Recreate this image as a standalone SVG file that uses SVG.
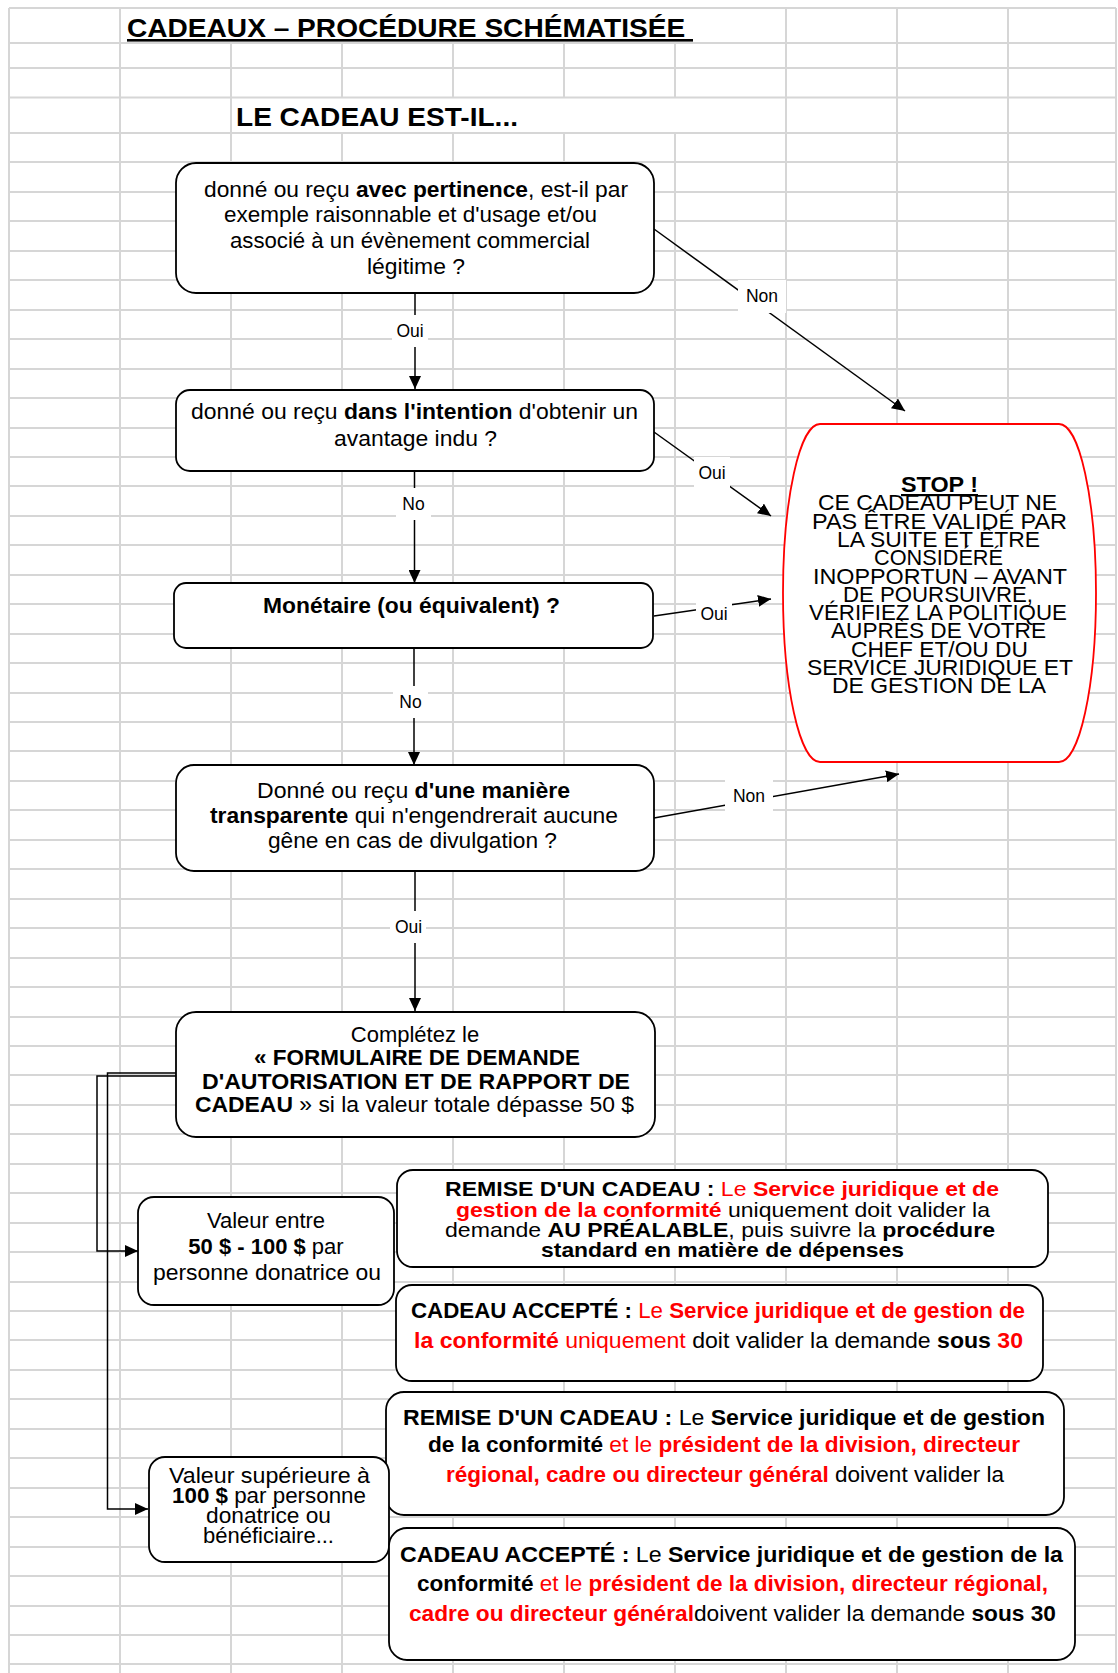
<svg xmlns="http://www.w3.org/2000/svg" width="1118" height="1673" viewBox="0 0 1118 1673">
<defs>
<style>
.grid{fill:none;stroke:#d6d6d6;stroke-width:2}
.box{fill:#fff;stroke:#000;stroke-width:1.8}
.stop{fill:#fff;stroke:#ff0000;stroke-width:1.8}
.ln{fill:none;stroke:#000;stroke-width:1.5}
.t{font-family:"Liberation Sans",Arial,Helvetica,sans-serif;font-size:22px;fill:#000}
.s{font-size:21px}
.c{text-anchor:middle}
.b{font-weight:bold}
.r{fill:#ff0000}
.lb{fill:#fff}
.lt{font-family:"Liberation Sans",Arial,Helvetica,sans-serif;font-size:17.5px;fill:#000;text-anchor:middle}
</style>
<marker id="ah" markerUnits="userSpaceOnUse" markerWidth="14" markerHeight="12" refX="13" refY="6" orient="auto"><path d="M0,0 L13,6 L0,12 Z" fill="#000"/></marker>
</defs>
<rect width="1118" height="1673" fill="#fff"/>
<g id="grid">
<path class="grid" d="M9 8H1116M9 43H1116M9 68H1116M9 97.5H1116M9 133H1116M9 162H1116M9 192H1116M9 221H1116M9 251H1116M9 280H1116M9 310H1116M9 339H1116M9 369H1116M9 398H1116M9 428H1116M9 457H1116M9 486H1116M9 516H1116M9 545H1116M9 575H1116M9 604H1116M9 634H1116M9 663H1116M9 693H1116M9 722H1116M9 751H1116M9 781H1116M9 810H1116M9 840H1116M9 869H1116M9 899H1116M9 928H1116M9 958H1116M9 987H1116M9 1017H1116M9 1046H1116M9 1075H1116M9 1105H1116M9 1134H1116M9 1164H1116M9 1193H1116M9 1223H1116M9 1252H1116M9 1282H1116M9 1311H1116M9 1340H1116M9 1370H1116M9 1399H1116M9 1429H1116M9 1458H1116M9 1488H1116M9 1517H1116M9 1547H1116M9 1576H1116M9 1606H1116M9 1635H1116M9 1664H1116"/>
<path class="grid" d="M9 8V1673M120 8V1673M231 43V1673M342 43V97.5M342 133V1673M453 43V97.5M453 133V1673M564 43V97.5M564 133V1673M675 43V97.5M675 133V1673M786 8V1673M897 8V1673M1008 8V1673M1116 8V1673"/>
</g>
<g id="title">
<text class="t b" x="127" y="37" style="font-size:26px;text-decoration:underline" textLength="566" lengthAdjust="spacingAndGlyphs">CADEAUX – PROCÉDURE SCHÉMATISÉE&#160;</text>
<text class="t b" x="236" y="126" style="font-size:26px" textLength="282" lengthAdjust="spacingAndGlyphs">LE CADEAU EST-IL...</text>
</g>
<g id="connectors">
<path class="ln" d="M415 293V389" marker-end="url(#ah)"/>
<path class="ln" d="M414.5 471V583" marker-end="url(#ah)"/>
<path class="ln" d="M414 648V765" marker-end="url(#ah)"/>
<path class="ln" d="M415 871V1011" marker-end="url(#ah)"/>
<path class="ln" d="M654 229L905 411" marker-end="url(#ah)"/>
<path class="ln" d="M654 432L771 516" marker-end="url(#ah)"/>
<path class="ln" d="M654 616L771 599" marker-end="url(#ah)"/>
<path class="ln" d="M654 818L899 774" marker-end="url(#ah)"/>
<path class="ln" d="M176 1076H97V1251H138" marker-end="url(#ah)"/>
<path class="ln" d="M176 1073H107.5V1509H148" marker-end="url(#ah)"/>
</g>
<g id="n1">
<rect class="box" x="176" y="163" width="478" height="130" rx="20"/>
<text class="t" x="204" y="197" textLength="424" lengthAdjust="spacingAndGlyphs">donné ou reçu <tspan class="b">avec pertinence</tspan>, est-il par</text>
<text class="t" x="224" y="222" textLength="373" lengthAdjust="spacingAndGlyphs">exemple raisonnable et d'usage et/ou</text>
<text class="t" x="230" y="248" textLength="360" lengthAdjust="spacingAndGlyphs">associé à un évènement commercial</text>
<text class="t" x="367" y="274" textLength="98" lengthAdjust="spacingAndGlyphs">légitime ?</text>
</g>
<g id="n2">
<rect class="box" x="176" y="390" width="478" height="81" rx="14"/>
<text class="t" x="191" y="419" textLength="447" lengthAdjust="spacingAndGlyphs">donné ou reçu <tspan class="b">dans l'intention</tspan> d'obtenir un</text>
<text class="t" x="334" y="446" textLength="163" lengthAdjust="spacingAndGlyphs">avantage indu ?</text>
</g>
<g id="n3">
<rect class="box" x="174" y="583" width="479" height="65" rx="12"/>
<text class="t b" x="263" y="613" textLength="297" lengthAdjust="spacingAndGlyphs">Monétaire (ou équivalent) ?</text>
</g>
<g id="n4">
<rect class="box" x="176" y="765" width="478" height="106" rx="18"/>
<text class="t" x="257" y="798" textLength="313" lengthAdjust="spacingAndGlyphs">Donné ou reçu <tspan class="b">d'une manière</tspan></text>
<text class="t" x="210" y="823" textLength="408" lengthAdjust="spacingAndGlyphs"><tspan class="b">transparente</tspan> qui n'engendrerait aucune</text>
<text class="t" x="268" y="848" textLength="289" lengthAdjust="spacingAndGlyphs">gêne en cas de divulgation ?</text>
</g>
<g id="n5">
<rect class="box" x="176" y="1012" width="479" height="125" rx="20"/>
<text class="t c" x="415" y="1042">Complétez le</text>
<text class="t b" x="254" y="1065" textLength="326" lengthAdjust="spacingAndGlyphs">« FORMULAIRE DE DEMANDE</text>
<text class="t b" x="202" y="1089" textLength="428" lengthAdjust="spacingAndGlyphs">D'AUTORISATION ET DE RAPPORT DE</text>
<text class="t" x="195" y="1112" textLength="439" lengthAdjust="spacingAndGlyphs"><tspan class="b">CADEAU</tspan> » si la valeur totale dépasse 50 $</text>
</g>
<g id="n6">
<rect class="box" x="138" y="1197" width="256" height="108" rx="16"/>
<text class="t c" x="266" y="1228">Valeur entre</text>
<text class="t c" x="266" y="1254"><tspan class="b">50 $ - 100 $</tspan> par</text>
<text class="t" x="153" y="1280" textLength="228" lengthAdjust="spacingAndGlyphs">personne donatrice ou</text>
</g>
<g id="n7">
<rect class="box" x="397" y="1170" width="651" height="97" rx="16"/>
<text class="t s" x="445" y="1196" textLength="554" lengthAdjust="spacingAndGlyphs"><tspan class="b">REMISE D'UN CADEAU :</tspan> <tspan class="r">Le </tspan><tspan class="r b">Service juridique et de</tspan></text>
<text class="t s" x="456" y="1217" textLength="534" lengthAdjust="spacingAndGlyphs"><tspan class="r b">gestion de la conformité</tspan> uniquement doit valider la</text>
<text class="t s" x="445" y="1237" textLength="550" lengthAdjust="spacingAndGlyphs">demande <tspan class="b">AU PRÉALABLE</tspan>, puis suivre la <tspan class="b">procédure</tspan></text>
<text class="t s b" x="541" y="1257" textLength="363" lengthAdjust="spacingAndGlyphs">standard en matière de dépenses</text>
</g>
<g id="n8">
<rect class="box" x="396" y="1285" width="647" height="96" rx="16"/>
<text class="t" x="411" y="1318" textLength="614" lengthAdjust="spacingAndGlyphs"><tspan class="b">CADEAU ACCEPTÉ :</tspan> <tspan class="r">Le </tspan><tspan class="r b">Service juridique et de gestion de</tspan></text>
<text class="t" x="414" y="1348" textLength="609" lengthAdjust="spacingAndGlyphs"><tspan class="r b">la conformité</tspan><tspan class="r"> uniquement</tspan> doit valider la demande <tspan class="b">sous</tspan> <tspan class="r b">30</tspan></text>
</g>
<g id="n9">
<rect class="box" x="386" y="1392" width="678" height="123" rx="18"/>
<text class="t" x="403" y="1425" textLength="642" lengthAdjust="spacingAndGlyphs"><tspan class="b">REMISE D'UN CADEAU :</tspan> Le <tspan class="b">Service juridique et de gestion</tspan></text>
<text class="t" x="428" y="1452" textLength="592" lengthAdjust="spacingAndGlyphs"><tspan class="b">de la conformité</tspan> <tspan class="r">et le </tspan><tspan class="r b">président de la division, directeur</tspan></text>
<text class="t" x="446" y="1482" textLength="558" lengthAdjust="spacingAndGlyphs"><tspan class="r b">régional, cadre ou directeur général</tspan> doivent valider la</text>
</g>
<g id="n10">
<rect class="box" x="149" y="1457" width="240" height="105" rx="16"/>
<text class="t" x="169" y="1483" textLength="201" lengthAdjust="spacingAndGlyphs">Valeur supérieure à</text>
<text class="t" x="172" y="1503" textLength="194" lengthAdjust="spacingAndGlyphs"><tspan class="b">100 $</tspan> par personne</text>
<text class="t" x="206" y="1523" textLength="125" lengthAdjust="spacingAndGlyphs">donatrice ou</text>
<text class="t" x="203" y="1543" textLength="131" lengthAdjust="spacingAndGlyphs">bénéficiaire...</text>
</g>
<g id="n11">
<rect class="box" x="389" y="1528" width="686" height="132" rx="18"/>
<text class="t" x="400" y="1562" textLength="663" lengthAdjust="spacingAndGlyphs"><tspan class="b">CADEAU ACCEPTÉ :</tspan> Le <tspan class="b">Service juridique et de gestion de la</tspan></text>
<text class="t" x="417" y="1591" textLength="631" lengthAdjust="spacingAndGlyphs"><tspan class="b">conformité</tspan> <tspan class="r">et le </tspan><tspan class="r b">président de la division, directeur régional,</tspan></text>
<text class="t" x="409" y="1621" textLength="647" lengthAdjust="spacingAndGlyphs"><tspan class="r b">cadre ou directeur général</tspan>doivent valider la demande <tspan class="b">sous 30</tspan></text>
</g>
<g id="stop">
<path class="stop" d="M820 424H1059A37 169 0 0 1 1096 593A37 169 0 0 1 1059 762H820A37 169 0 0 1 783 593A37 169 0 0 1 820 424Z"/>
<text class="t b" x="901" y="492" style="text-decoration:underline" textLength="77" lengthAdjust="spacingAndGlyphs">STOP !</text>
<text class="t" x="818" y="510.3" textLength="239" lengthAdjust="spacingAndGlyphs">CE CADEAU PEUT NE</text>
<text class="t" x="812" y="528.6" textLength="255" lengthAdjust="spacingAndGlyphs">PAS ÊTRE VALIDÉ PAR</text>
<text class="t" x="837" y="546.9" textLength="203" lengthAdjust="spacingAndGlyphs">LA SUITE ET ÊTRE</text>
<text class="t" x="874" y="565.2" textLength="129" lengthAdjust="spacingAndGlyphs">CONSIDÉRÉ</text>
<text class="t" x="813" y="583.5" textLength="254" lengthAdjust="spacingAndGlyphs">INOPPORTUN – AVANT</text>
<text class="t" x="843" y="601.8" textLength="190" lengthAdjust="spacingAndGlyphs">DE POURSUIVRE,</text>
<text class="t" x="809" y="620.1" textLength="258" lengthAdjust="spacingAndGlyphs">VÉRIFIEZ LA POLITIQUE</text>
<text class="t" x="831" y="638.4" textLength="215" lengthAdjust="spacingAndGlyphs">AUPRÈS DE VOTRE</text>
<text class="t" x="851" y="656.7" textLength="177" lengthAdjust="spacingAndGlyphs">CHEF ET/OU DU</text>
<text class="t" x="807" y="675" textLength="266" lengthAdjust="spacingAndGlyphs">SERVICE JURIDIQUE ET</text>
<text class="t" x="832" y="693.3" textLength="214" lengthAdjust="spacingAndGlyphs">DE GESTION DE LA</text>
</g>
<g id="labels">
<rect class="lb" x="392" y="315" width="36" height="32"/><text class="lt" x="410" y="337">Oui</text>
<rect class="lb" x="396" y="488" width="35" height="32"/><text class="lt" x="413.5" y="510">No</text>
<rect class="lb" x="393" y="686" width="35" height="32"/><text class="lt" x="410.5" y="708">No</text>
<rect class="lb" x="390" y="911" width="36" height="32"/><text class="lt" x="408.5" y="933">Oui</text>
<rect class="lb" x="738" y="280" width="48" height="33"/><text class="lt" x="762" y="302">Non</text>
<rect class="lb" x="694" y="457" width="36" height="32"/><text class="lt" x="712" y="479">Oui</text>
<rect class="lb" x="696" y="598" width="36" height="32"/><text class="lt" x="714" y="620">Oui</text>
<rect class="lb" x="725" y="780" width="48" height="32"/><text class="lt" x="749" y="802">Non</text>
</g>
</svg>
